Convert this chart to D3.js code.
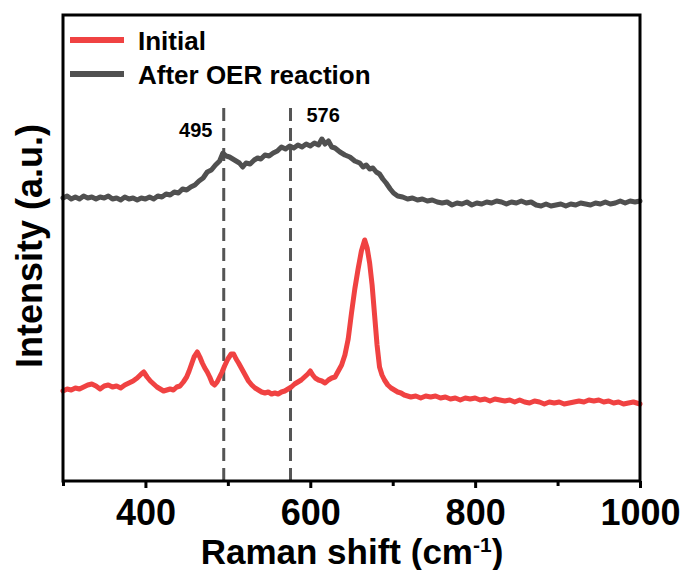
<!DOCTYPE html>
<html>
<head>
<meta charset="utf-8">
<script src="https://cdn.jsdelivr.net/npm/d3@7"></script>
<style>
  body { margin: 0; background: #fff; }
  text { font-family: "Liberation Sans", Arial, sans-serif; font-weight: bold; }
</style>
</head>
<body>
<div id="chart"></div>
<script>
// Raman shift (cm-1) and intensity (a.u.)
const shiftOER = [300,305,310,315,320,325,330,335,340,345,350,355,360,365,370,375,380,385,390,395,400,405,410,415,420,425,430,435,440,445,450,455,460,465,470,475,480,485,490,494,498,502,506,510,514,518,522,527,532,536,540,545,550,555,560,565,570,575,580,585,590,595,600,605,610,614,618,622,626,630,636,642,648,654,660,664,668,672,676,680,684,688,692,697,701,706,712,718,724,730,736,742,748,754,760,766,772,778,784,790,796,802,808,814,820,826,832,838,844,850,856,862,868,874,880,886,892,898,904,910,916,922,928,934,940,946,952,958,964,970,976,982,988,994,1000];
const intOER = [283,285,282,284,282,285,283,284,282,284,283,285,282,283,281,284,282,283,281,283,282,284,282,285,284,287,286,289,288,292,291,294,296,300,303,309,311,316,320,328,325,324,322,320,318,314,318,317,321,323,322,326,325,328,330,334,332,335,333,336,334,337,335,338,336,342,337,340,334,333,329,326,324,320,318,314,316,312,313,309,307,302,298,292,288,285,284,282,283,281,282,280,281,279,278,279,276,278,277,279,276,278,277,279,278,280,279,277,279,278,280,278,279,276,275,277,275,276,277,275,277,276,278,277,276,278,277,279,277,278,280,278,280,279,280];

const shiftInit = [300,305,310,315,320,325,330,335,340,345,350,355,360,365,370,375,380,385,390,395,398,402,406,410,414,418,422,426,430,434,438,442,446,450,453,456,459,463,466,469,472,475,478,481,484,487,490,493,496,500,504,507,510,513,517,521,525,529,533,537,541,545,549,553,557,561,565,569,573,577,581,585,589,593,597,600,603,606,610,614,618,622,626,630,634,638,642,646,650,654,658,662,666,669,672,675,678,681,684,687,690,694,698,702,706,710,714,718,722,728,734,740,746,752,758,764,770,776,782,788,794,800,806,812,818,824,830,836,842,848,854,860,866,872,878,884,890,896,902,908,914,920,926,932,938,944,950,956,962,968,974,980,986,992,1000];
const intInit = [90,92,91,93,92,94,96,97,95,92,95,96,94,95,93,96,98,100,103,107,109,104,100,97,94,92,90,91,92,91,94,95,99,104,110,117,124,129,124,118,113,109,104,98,96,99,104,109,115,122,127,127,122,118,112,106,100,96,93,91,89,88,89,87,88,87,89,90,92,94,97,99,101,104,107,110,106,103,101,100,98,101,103,104,110,116,126,142,168,192,212,230,241,233,218,196,166,136,114,106,101,96,93,91,89,88,86,85,84,85,83,85,84,85,83,84,82,83,81,83,82,83,81,82,80,82,81,80,81,79,81,79,78,80,79,77,79,78,79,77,78,79,80,79,81,80,81,79,80,78,79,77,78,79,77];

const majorTicks = [400, 600, 800, 1000];
const minorTicks = [300, 500, 700, 900];
const peakMarks = [495, 576];

const width = 686, height = 570;
const m = {left: 63, right: 640, top: 15, bottom: 481};

const svg = d3.select("#chart").append("svg")
  .attr("width", width)
  .attr("height", height);

const x = d3.scaleLinear().domain([300, 1000]).range([m.left, m.right]);
const y = d3.scaleLinear().domain([0, 466]).range([m.bottom, m.top]);

// dashed peak markers
svg.selectAll(".peak").data(peakMarks).enter().append("line")
  .attr("x1", d => x(d)).attr("x2", d => x(d))
  .attr("y1", 108).attr("y2", m.bottom)
  .attr("stroke", "#555").attr("stroke-width", 3)
  .attr("stroke-dasharray", "13,7");

svg.append("text").attr("x", x(495) - 28).attr("y", 137)
  .attr("text-anchor", "middle").attr("font-size", 20).text("495");
svg.append("text").attr("x", x(576) + 16).attr("y", 122)
  .attr("font-size", 20).text("576");

const line = d3.line().x(d => x(d[0])).y(d => y(d[1]));

svg.append("path")
  .attr("d", line(d3.zip(shiftOER, intOER)))
  .attr("fill", "none").attr("stroke", "#505050")
  .attr("stroke-width", 5).attr("stroke-linejoin", "round").attr("stroke-linecap", "round");

svg.append("path")
  .attr("d", line(d3.zip(shiftInit, intInit)))
  .attr("fill", "none").attr("stroke", "#f04242")
  .attr("stroke-width", 5).attr("stroke-linejoin", "round").attr("stroke-linecap", "round");

// frame
svg.append("rect")
  .attr("x", m.left).attr("y", m.top)
  .attr("width", m.right - m.left).attr("height", m.bottom - m.top)
  .attr("fill", "none").attr("stroke", "#000").attr("stroke-width", 3);

// x axis
const minorAxis = svg.append("g").attr("transform", `translate(0,${m.bottom})`)
  .call(d3.axisBottom(x).tickValues(minorTicks).tickSize(5).tickFormat(""));
const majorAxis = svg.append("g").attr("transform", `translate(0,${m.bottom})`)
  .call(d3.axisBottom(x).tickValues(majorTicks).tickSize(7).tickPadding(11).tickFormat(d3.format("d")));
[minorAxis, majorAxis].forEach(g => {
  g.select(".domain").remove();
  g.selectAll("line").attr("stroke", "#000").attr("stroke-width", 3);
});
majorAxis.selectAll("text")
  .attr("font-size", 36).attr("fill", "#000")
  .attr("font-family", "Liberation Sans, Arial, sans-serif").attr("font-weight", "bold");

// axis titles
const xt = svg.append("text").attr("x", 352).attr("y", 564)
  .attr("text-anchor", "middle").attr("font-size", 35);
xt.append("tspan").text("Raman shift (cm");
xt.append("tspan").attr("font-size", 21).attr("dy", -12).text("-1");
xt.append("tspan").attr("dy", 12).text(")");

svg.append("text")
  .attr("transform", "translate(42,246) rotate(-90)")
  .attr("text-anchor", "middle").attr("font-size", 36)
  .text("Intensity (a.u.)");

// legend
const legend = [
  {name: "Initial", color: "#f04242", y: 40},
  {name: "After OER reaction", color: "#505050", y: 74}
];
const lg = svg.selectAll(".lg").data(legend).enter().append("g");
lg.append("line").attr("x1", 70).attr("x2", 124)
  .attr("y1", d => d.y).attr("y2", d => d.y)
  .attr("stroke", d => d.color).attr("stroke-width", 6);
lg.append("text").attr("x", 138).attr("y", d => d.y + 9.5)
  .attr("font-size", 26).text(d => d.name);
</script>
</body>
</html>
